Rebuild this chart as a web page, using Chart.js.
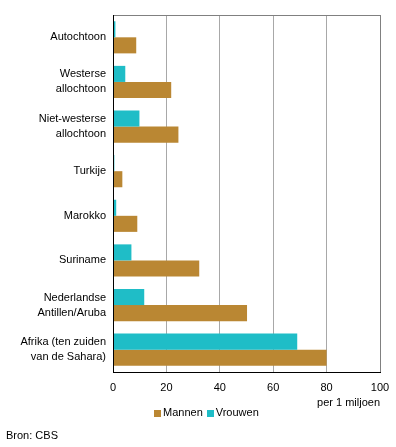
<!DOCTYPE html>
<html>
<head>
<meta charset="utf-8">
<script src="https://cdn.jsdelivr.net/npm/chart.js@4"></script>
<style>
  body { margin: 0; background: #fff; font-family: Arial, "Liberation Sans", sans-serif; }
  #wrap { position: relative; width: 396px; height: 447px; }
  canvas { position: absolute; left: 0; top: 0; }
  .legenda { position: absolute; top: 406px; left: 154px; font-size: 11px; color: #000; white-space: nowrap; }
  .legenda span.item { display: inline-block; margin-right: 4px; }
  .legenda span.kleur { display: inline-block; width: 7px; height: 7px; margin-right: 2px; vertical-align: -1px; }
  .bron { position: absolute; left: 6px; top: 429px; font-size: 11px; color: #000; }
</style>
</head>
<body>
<div id="wrap">
  <canvas id="grafiek" width="396" height="447"></canvas>
  <div class="legenda" id="legenda"></div>
  <div class="bron">Bron: CBS</div>
</div>
<script>
const categorieen = [
  'Autochtoon',
  ['Westerse', 'allochtoon'],
  ['Niet-westerse', 'allochtoon'],
  'Turkije',
  'Marokko',
  'Suriname',
  ['Nederlandse', 'Antillen/Aruba'],
  ['Afrika (ten zuiden', 'van de Sahara)'],
];
const vrouwen = [0.9, 4.6, 9.9, 0.5, 1.2, 6.9, 11.7, 69];
const mannen = [8.7, 21.8, 24.5, 3.5, 9.1, 32.3, 50.2, 80];
const xTicks = [0, 20, 40, 60, 80, 100];

const kleurMannen = '#BA8733';
const kleurVrouwen = '#1FBDC7';

function maakLegenda() {
  const items = [
    { label: 'Mannen', kleur: kleurMannen },
    { label: 'Vrouwen', kleur: kleurVrouwen },
  ];
  document.getElementById('legenda').innerHTML = items.map(item =>
    `<span class="item"><span class="kleur" style="background:${item.kleur}"></span>${item.label}</span>`
  ).join('');
}

const lettertype = { family: 'Arial, "Liberation Sans", sans-serif', size: 11 };

new Chart(document.getElementById('grafiek'), {
  type: 'bar',
  data: {
    labels: categorieen,
    datasets: [
      { label: 'Vrouwen', data: vrouwen, backgroundColor: kleurVrouwen, categoryPercentage: 0.72, barPercentage: 1 },
      { label: 'Mannen', data: mannen, backgroundColor: kleurMannen, categoryPercentage: 0.72, barPercentage: 1 },
    ],
  },
  options: {
    indexAxis: 'y',
    responsive: false,
    animation: false,
    layout: { padding: { top: 15, right: 16, bottom: 35, left: 0 } },
    plugins: { legend: { display: false }, tooltip: { enabled: false } },
    scales: {
      x: {
        min: 0,
        max: 100,
        afterBuildTicks: axis => { axis.ticks = xTicks.map(v => ({ value: v })); },
        afterFit: axis => {
          axis.height = 40;
          axis.paddingLeft = 0;
          axis.paddingRight = 0;
        },
        grid: {
          drawTicks: false,
          color: ctx => ctx.tick && ctx.tick.value === 100 ? '#808080' : '#A8A8A8',
        },
        border: { color: '#000', width: 1 },
        ticks: { color: '#000', font: lettertype, padding: 9, maxRotation: 0 },
        title: {
          display: true,
          text: 'per 1 miljoen',
          align: 'end',
          color: '#000',
          font: lettertype,
          padding: { top: 0, bottom: 2 },
        },
      },
      xTop: {
        axis: 'x',
        position: 'top',
        min: 0,
        max: 100,
        afterFit: axis => {
          axis.height = 0;
          axis.paddingLeft = 0;
          axis.paddingRight = 0;
        },
        grid: { display: false },
        ticks: { display: false },
        border: { color: '#808080', width: 1 },
      },
      y: {
        afterFit: axis => {
          axis.width = 113;
          axis.paddingTop = 0;
          axis.paddingBottom = 0;
        },
        grid: { display: false, drawTicks: false },
        border: { color: '#000', width: 1, z: 1 },
        ticks: { color: '#000', font: { ...lettertype, lineHeight: '15px' }, padding: 7 },
      },
    },
  },
});

maakLegenda();
</script>
</body>
</html>
